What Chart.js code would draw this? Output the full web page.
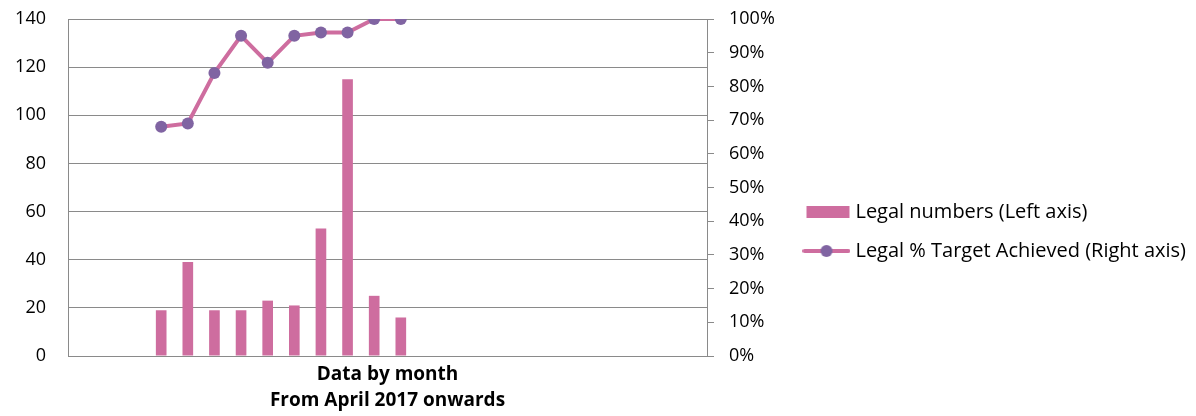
<!DOCTYPE html>
<html>
<head>
<meta charset="utf-8">
<title>Legal numbers</title>
<script src="https://cdn.jsdelivr.net/npm/chart.js@4.4.0/dist/chart.umd.min.js"></script>
<style>
  html, body { margin: 0; padding: 0; background: #fff; }
</style>
</head>
<body>
<canvas id="chart" width="1196" height="416"></canvas>
<script>
// months shown on the x axis (labels are hidden in the original)
const months = [
  'Jan 2017', 'Feb 2017', 'Mar 2017', 'Apr 2017', 'May 2017', 'Jun 2017',
  'Jul 2017', 'Aug 2017', 'Sep 2017', 'Oct 2017', 'Nov 2017', 'Dec 2017',
  'Jan 2018', 'Feb 2018', 'Mar 2018', 'Apr 2018', 'May 2018', 'Jun 2018',
  'Jul 2018', 'Aug 2018', 'Sep 2018', 'Oct 2018', 'Nov 2018', 'Dec 2018'
]
const legalNumbers = [
  null, null, null, 19, 39, 19, 19, 23, 21, 53, 115, 25,
  16, null, null, null, null, null, null, null, null, null, null, null
]
const targetAchieved = [
  null, null, null, 68, 69, 84, 95, 87, 95, 96, 96, 100,
  100, null, null, null, null, null, null, null, null, null, null, null
]
const leftMax = 140
const leftStep = 20
const rightMax = 100
const rightStep = 10
const seriesNames = ['Legal numbers (Left axis)', 'Legal % Target Achieved (Right axis)']
const xTitle = ['Data by month', 'From April 2017 onwards']

const PINK = '#CE6D9F'
const PURPLE = '#8064A2'
const GREY = '#8A8A8A'

Chart.defaults.font.family = '"Open Sans", Lato, sans-serif'
Chart.defaults.color = '#000'

// little pictures for the legend (bar swatch, line with marker)
function legendIcon(kind) {
  const c = document.createElement('canvas')
  c.width = 48
  c.height = 16
  const g = c.getContext('2d')
  if (kind === 'bar') {
    g.fillStyle = PINK
    g.fillRect(4, 2, 43, 12)
  } else {
    g.strokeStyle = PINK
    g.lineWidth = 4
    g.lineCap = 'round'
    g.beginPath()
    g.moveTo(2, 8)
    g.lineTo(46, 8)
    g.stroke()
    g.fillStyle = PURPLE
    g.beginPath()
    g.arc(24, 8, 6, 0, Math.PI * 2)
    g.fill()
  }
  return c
}
const icons = [legendIcon('bar'), legendIcon('line')]

// keep the tick label overhang from pushing the plot down
function trimPadding(s) {
  s.paddingTop = 8
  s.paddingBottom = 8
}

const ctx = document.querySelector('#chart').getContext('2d')
new Chart(ctx, {
  type: 'bar',
  data: {
    labels: months,
    datasets: [
      {
        type: 'bar',
        label: seriesNames[0],
        data: legalNumbers,
        backgroundColor: PINK,
        yAxisID: 'y',
        barPercentage: 0.4,
        categoryPercentage: 1,
        order: 2
      },
      {
        type: 'line',
        label: seriesNames[1],
        data: targetAchieved,
        borderColor: PINK,
        borderWidth: 4,
        pointRadius: 6,
        pointBackgroundColor: PURPLE,
        pointBorderColor: PURPLE,
        pointBorderWidth: 0,
        tension: 0,
        yAxisID: 'y1',
        order: 1
      }
    ]
  },
  options: {
    responsive: false,
    animation: false,
    devicePixelRatio: 1,
    layout: { padding: { top: 19, left: 0, right: 0, bottom: 0 } },
    plugins: {
      tooltip: { enabled: false },
      legend: {
        position: 'right',
        maxWidth: 440,
        title: { display: true, text: ' ', font: { size: 10, lineHeight: 1 }, padding: { top: 9, bottom: 9 } },
        labels: {
          font: { size: 20 },
          color: '#000',
          padding: 19,
          usePointStyle: true,
          pointStyleWidth: 38,
          generateLabels: (chart) => chart.data.datasets.map((ds, i) => ({
            text: ds.label,
            pointStyle: icons[i],
            fillStyle: PINK,
            strokeStyle: PINK,
            lineWidth: 0,
            hidden: false,
            datasetIndex: i
          }))
        }
      }
    },
    scales: {
      x: {
        type: 'category',
        ticks: { display: false },
        grid: { display: false, drawTicks: false },
        border: { display: true, color: GREY },
        title: {
          display: true,
          text: xTitle,
          font: { size: 19, weight: 'bold', lineHeight: 26 / 19 },
          padding: { top: 4, bottom: 2 }
        },
        afterFit: (s) => { s.height = 60 }
      },
      y: {
        position: 'left',
        min: 0,
        max: leftMax,
        ticks: { stepSize: leftStep, padding: 22, font: { size: 18 } },
        grid: { color: GREY, drawTicks: false },
        border: { display: true, color: GREY },
        afterFit: (s) => {
          s.width = 68
          trimPadding(s)
        }
      },
      y1: {
        position: 'right',
        min: 0,
        max: rightMax,
        ticks: { stepSize: rightStep, padding: 15, font: { size: 18 }, callback: (v) => v + '%' },
        grid: { drawOnChartArea: false, drawTicks: true, tickLength: 7, color: GREY },
        border: { display: true, color: GREY },
        afterFit: (s) => {
          const lg = s.chart.legend
          s.width = lg ? s.chart.width - lg.width - 707 : 78
          trimPadding(s)
        }
      }
    }
  }
})
</script>
</body>
</html>
